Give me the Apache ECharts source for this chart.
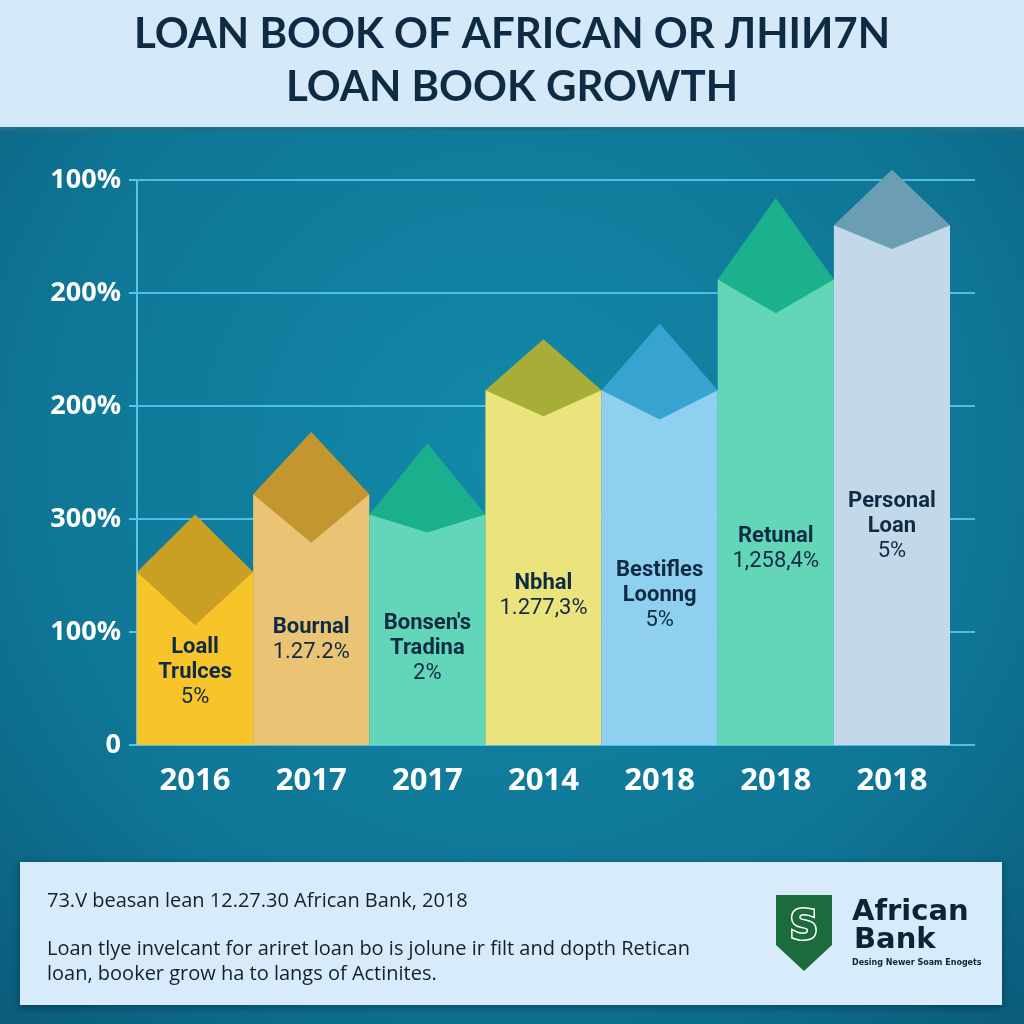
<!DOCTYPE html>
<html>
<head>
<meta charset="utf-8">
<script src="https://cdn.jsdelivr.net/npm/echarts@6/dist/echarts.min.js"></script>
<style>
html,body{margin:0;padding:0;background:#0e6d8c;}
#chart{width:1024px;height:1024px;}
</style>
</head>
<body>
<div id="chart"></div>
<script>
// ---- data ----
const titleLines = ['LOAN BOOK OF AFRICAN OR ЛHIИ7N', 'LOAN BOOK GROWTH'];
const years = ['2016', '2017', '2017', '2014', '2018', '2018', '2018'];
const bodyValues = [1.53, 2.22, 2.04, 3.14, 3.14, 4.12, 4.6];
const peakValues = [2.04, 2.77, 2.67, 3.59, 3.73, 4.84, 5.09];
const notchValues = [1.06, 1.79, 1.88, 2.91, 2.88, 3.82, 4.39];
const labelNames = ['Loall\nTrulces', 'Bournal', "Bonsen's\nTradina", 'Nbhal', 'Bestifles\nLoonng', 'Retunal', 'Personal\nLoan'];
const labelValues = ['5%', '1.27.2%', '2%', '1.277,3%', '5%', '1,258,4%', '5%'];
const yTickLabels = ['0', '100%', '300%', '200%', '200%', '100%'];
const footerLines = ['73.V beasan lean 12.27.30 African Bank, 2018',
  'Loan tlye invelcant for ariret loan bo is jolune ir filt and dopth Retican',
  'loan, booker grow ha to langs of Actinites.'];
const logoText = ['African', 'Bank', 'Desing Newer Soam Enogets'];

// ---- styles ----
const bodyColors = ['#f7c42a', '#ebc375', '#63d6b9', '#ebe37b', '#8fd0ee', '#63d6b8', '#c3d9e9'];
const tipColors = ['#c9a023', '#c4962f', '#1bb08d', '#a7ad37', '#36a3d1', '#1bb18d', '#6b9db3'];
const navy = '#0f2b44';

const chart = echarts.init(document.getElementById('chart'), null, {renderer: 'canvas'});

const seriesData = years.map((y, i) => [i, bodyValues[i], peakValues[i], notchValues[i]]);

function renderBar(params, api) {
  const i = api.value(0);
  const base = api.coord([i, 0]);
  const shoulder = api.coord([i, api.value(1)]);
  const peak = api.coord([i, api.value(2)]);
  const notch = api.coord([i, api.value(3)]);
  const w = api.size([1, 0])[0];
  const cx = base[0];
  const x0 = cx - w / 2, x1 = cx + w / 2;
  const bodyH = base[1] - shoulder[1];
  const labelY = base[1] - bodyH * 0.42;
  const nameLines = labelNames[i].split('\n');
  const text = nameLines.map(l => '{b|' + l + '}').join('\n') + '\n{v|' + labelValues[i] + '}';
  return {
    type: 'group',
    children: [
      {type: 'rect', shape: {x: x0, y: shoulder[1], width: w, height: bodyH},
        style: {fill: bodyColors[i]}},
      {type: 'polygon', shape: {points: [[cx, peak[1]], [x1, shoulder[1]], [cx, notch[1]], [x0, shoulder[1]]]},
        style: {fill: tipColors[i]}},
      {type: 'text', x: cx, y: labelY,
        style: {text: text, align: 'center', verticalAlign: 'middle',
          rich: {
            b: {fontFamily: 'Roboto', fontWeight: 'bold', fontSize: 22, lineHeight: 25, fill: navy, align: 'center'},
            v: {fontFamily: 'Roboto', fontWeight: 'normal', fontSize: 22, lineHeight: 25, fill: navy, align: 'center'}
          }}}
    ]
  };
}

const option = {
  backgroundColor: {
    type: 'radial', x: 0.5, y: 0.45, r: 0.8,
    colorStops: [{offset: 0, color: '#1389a9'}, {offset: 0.6, color: '#0f7595'}, {offset: 1, color: '#0a5675'}]
  },
  animation: false,
  grid: [
    {left: 137, right: 49, top: 180, bottom: 279},
    {left: 137, right: 74, top: 180, bottom: 279}
  ],
  xAxis: [
    {gridIndex: 0, type: 'value', min: 0, max: 1, show: false},
    {gridIndex: 1, type: 'category', data: years,
      axisLine: {show: false}, axisTick: {show: false},
      axisLabel: {color: '#ffffff', fontFamily: 'Open Sans', fontWeight: 'bold', fontSize: 31, margin: 21}}
  ],
  yAxis: [
    {gridIndex: 0, type: 'value', min: 0, max: 5, interval: 1,
      axisLine: {show: true, lineStyle: {color: '#55c6e8', width: 2}},
      axisTick: {show: true, length: 8, lineStyle: {color: '#55c6e8', width: 2}},
      splitLine: {show: true, lineStyle: {color: '#4cbfe2', width: 2}},
      axisLabel: {color: '#ffffff', fontFamily: 'Open Sans', fontWeight: 'bold', fontSize: 27, margin: 16,
        formatter: v => yTickLabels[Math.round(v)]}},
    {gridIndex: 1, type: 'value', min: 0, max: 5, interval: 1, show: false}
  ],
  series: [{
    type: 'custom', xAxisIndex: 1, yAxisIndex: 1,
    data: seriesData, renderItem: renderBar, clip: false
  }],
  graphic: [
    {type: 'rect', left: 0, top: 0, shape: {width: 1024, height: 128}, style: {fill: '#d5e9f9'}, z: 10},
    {type: 'rect', left: 0, top: 127, shape: {width: 1024, height: 4}, style: {fill: '#1b6f88'}, z: 10},
    {type: 'text', x: 512, y: 34, z: 11, style: {text: titleLines[0], align: 'center', verticalAlign: 'middle',
      font: 'bold 42px Lato', fill: navy}},
    {type: 'text', x: 512, y: 87, z: 11, style: {text: titleLines[1], align: 'center', verticalAlign: 'middle',
      font: 'bold 42px Lato', fill: navy}},
    {type: 'rect', left: 20, top: 862, shape: {width: 982, height: 143},
      style: {fill: '#d8ebfa', shadowBlur: 8, shadowColor: 'rgba(0,0,0,0.35)', shadowOffsetY: 2}, z: 10},
    {type: 'text', x: 47, y: 901, z: 11, style: {text: footerLines[0], align: 'left', verticalAlign: 'middle',
      font: '20px "Open Sans"', fill: '#14202b'}},
    {type: 'text', x: 47, y: 949, z: 11, style: {text: footerLines[1], align: 'left', verticalAlign: 'middle',
      font: '20px "Open Sans"', fill: '#14202b'}},
    {type: 'text', x: 47, y: 974, z: 11, style: {text: footerLines[2], align: 'left', verticalAlign: 'middle',
      font: '20px "Open Sans"', fill: '#14202b'}},
    {type: 'polygon', z: 11, shape: {points: [[776, 895], [832, 895], [832, 945], [804, 971], [776, 945]]},
      style: {fill: '#1c6b3c'}},
    {type: 'text', x: 804, y: 929, z: 12, style: {text: 'S', align: 'center', verticalAlign: 'middle',
      font: 'bold 40px "DejaVu Sans"', fill: '#1c6b3c', stroke: '#ffffff', lineWidth: 3}},
    {type: 'text', x: 852, y: 912, z: 11, style: {text: logoText[0], align: 'left', verticalAlign: 'middle',
      font: 'bold 29px "DejaVu Sans"', fill: '#0f2433'}},
    {type: 'text', x: 854, y: 940, z: 11, style: {text: logoText[1], align: 'left', verticalAlign: 'middle',
      font: 'bold 29px "DejaVu Sans"', fill: '#0f2433'}},
    {type: 'text', x: 852, y: 963, z: 11, style: {text: logoText[2], align: 'left', verticalAlign: 'middle',
      font: 'bold 8px "DejaVu Sans"', fill: '#0f2433'}}
  ]
};
chart.setOption(option);
</script>
</body>
</html>
